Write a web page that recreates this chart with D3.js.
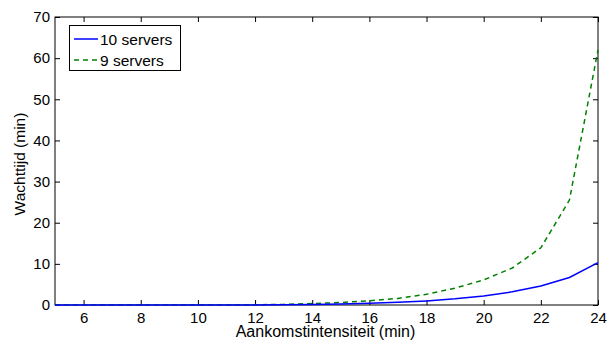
<!DOCTYPE html>
<html><head><meta charset="utf-8">
<script src="https://cdn.jsdelivr.net/npm/d3@7"></script>
<style>body{margin:0;background:#fff;} text{font-family:"Liberation Sans",Arial,sans-serif;}</style>
</head><body>
<svg id="c" width="607" height="342"></svg>
<script>
const xValues = [5,6,7,8,9,10,11,12,13,14,15,16,17,18,19,20,21,22,23,24];
const servers10 = [0,0,0,0,0,0,0.01,0.03,0.06,0.12,0.25,0.4,0.65,1.0,1.5,2.2,3.2,4.6,6.7,10.3];
const servers9 = [0,0,0,0,0,0.01,0.03,0.07,0.15,0.35,0.6,1.05,1.6,2.6,4.1,6.1,9.0,13.9,25.5,62.0];
const seriesNames = ["10 servers","9 servers"];
const xTicks = [6,8,10,12,14,16,18,20,22,24];
const yTicks = [0,10,20,30,40,50,60,70];

const svg = d3.select("#c");
const L=55,R=598,T=17,B=305;
const x = d3.scaleLinear().domain([5,24]).range([L,R]);
const y = d3.scaleLinear().domain([0,70]).range([B,T]);
const fs = "15px";

svg.append("rect").attr("x",L).attr("y",T).attr("width",R-L).attr("height",B-T)
  .attr("fill","none").attr("stroke","#000").attr("stroke-width",1);

const tl=5;
const gx = svg.append("g").attr("transform",`translate(0,${B})`)
  .call(d3.axisBottom(x).tickValues(xTicks).tickSizeInner(-tl).tickSizeOuter(0).tickPadding(7));
const gxt = svg.append("g").attr("transform",`translate(0,${T})`)
  .call(d3.axisTop(x).tickValues(xTicks).tickSizeInner(-tl).tickSizeOuter(0).tickFormat(""));
const gy = svg.append("g").attr("transform",`translate(${L},0)`)
  .call(d3.axisLeft(y).tickValues(yTicks).tickSizeInner(-tl).tickSizeOuter(0).tickPadding(5));
const gyr = svg.append("g").attr("transform",`translate(${R},0)`)
  .call(d3.axisRight(y).tickValues(yTicks).tickSizeInner(-tl).tickSizeOuter(0).tickFormat(""));
[gx,gxt,gy,gyr].forEach(g=>{
  g.select(".domain").remove();
  g.selectAll("line").attr("stroke","#000");
  g.selectAll("text").attr("font-size",fs).attr("fill","#000").style("font-family","Liberation Sans, Arial, sans-serif");
});

const line = d3.line().x((d,i)=>x(xValues[i])).y(d=>y(d));
svg.append("path").datum(servers9).attr("d",line).attr("fill","none")
  .attr("stroke","#008000").attr("stroke-width",1.5).attr("stroke-dasharray","5,4");
svg.append("path").datum(servers10).attr("d",line).attr("fill","none")
  .attr("stroke","#0000ff").attr("stroke-width",1.5);

svg.append("text").attr("x",(L+R)/2-1).attr("y",337).attr("text-anchor","middle")
  .attr("font-size","16px").text("Aankomstintensiteit (min)");
svg.append("text").attr("transform",`translate(25,164) rotate(-90)`)
  .attr("text-anchor","middle").attr("font-size","15.5px").text("Wachttijd (min)");

const lg = svg.append("g");
lg.append("rect").attr("x",69.5).attr("y",25.5).attr("width",111).attr("height",45)
  .attr("fill","#fff").attr("stroke","#000").attr("stroke-width",1);
const cols=["#0000ff","#008000"], dash=[null,"5,4"];
seriesNames.forEach((n,i)=>{
  const yy = 39 + i*21;
  lg.append("line").attr("x1",74).attr("x2",98).attr("y1",yy).attr("y2",yy)
    .attr("stroke",cols[i]).attr("stroke-width",1.5).attr("stroke-dasharray",dash[i]);
  lg.append("text").attr("x",100).attr("y",yy+5.5).attr("font-size","15.5px").text(n);
});
</script>
</body></html>
